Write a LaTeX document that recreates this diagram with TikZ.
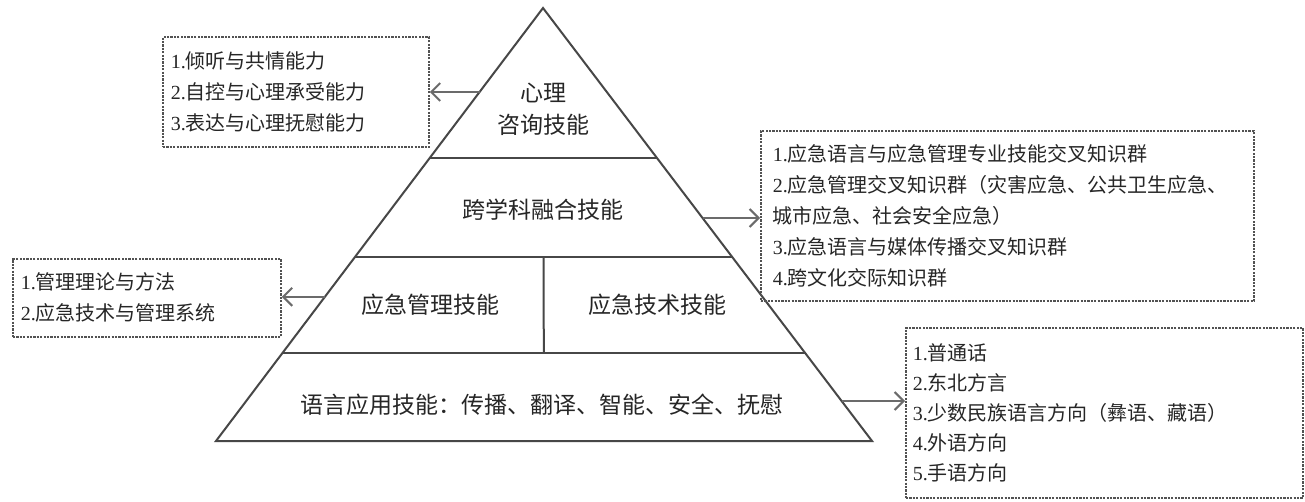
\documentclass[tikz,border=0pt]{standalone}
\usepackage{fontspec}
\setmainfont{Liberation Serif}
\newfontfamily\zh{Noto Sans CJK SC}
\usetikzlibrary{arrows.meta,calc}
\begin{document}
\begin{tikzpicture}[x=1pt,y=-1pt,
  edge/.style={draw=black!72, line width=2pt, line join=miter},
  lvl/.style={font=\zh\fontsize{23}{32}\selectfont, text=black!85, inner sep=0pt, align=center},
  listbox/.style={draw=black!68, line width=1.8pt, dash pattern=on 2.2pt off 1.2pt,
    font=\fontsize{20}{31}\selectfont, align=left, anchor=north west,
    inner xsep=8pt, inner ysep=0pt, text=black!85},
  arr/.style={draw=black!58, line width=2pt, -{Straight Barb[length=9pt,width=18pt,line width=2pt]}}
]
\fill[white] (0,0) rectangle (1305,501);
\useasboundingbox (0,0) rectangle (1305,501);

% pyramid
\coordinate (apex) at (543,8);
\coordinate (bl) at (216,441);
\coordinate (br) at (872,441);
\draw[edge] (bl) -- (apex) -- (br) -- cycle;
\coordinate (l1) at ($(apex)!0.3464!(bl)$);
\coordinate (r1) at ($(apex)!0.3464!(br)$);
\coordinate (l2) at ($(apex)!0.5751!(bl)$);
\coordinate (r2) at ($(apex)!0.5751!(br)$);
\coordinate (l3) at ($(apex)!0.7968!(bl)$);
\coordinate (r3) at ($(apex)!0.7968!(br)$);
\draw[edge] (l1) -- (r1);
\draw[edge] (l2) -- (r2);
\draw[edge] (l3) -- (r3);
\coordinate (m2) at ($(l2)!0.5!(r2)$);
\coordinate (m3) at ($(l3)!0.5!(r3)$);
\draw[edge] (m2) -- (m3);

% level labels
\node[lvl] (t1) at (543,109) {心理\\咨询技能};
\node[lvl] (t2) at (543,210) {跨学科融合技能};
\node[lvl] (t3) at (430,305) {应急管理技能};
\node[lvl] (t4) at (657,305) {应急技术技能};
\node[lvl] (t5) at (542,405) {语言应用技能：传播、翻译、智能、安全、抚慰};

% list boxes
\node[listbox, text width=250pt, minimum height=110pt] (b1) at (162,36)
  {1.{\zh 倾听与共情能力}\\2.{\zh 自控与心理承受能力}\\3.{\zh 表达与心理抚慰能力}};
\node[listbox, inner xsep=12pt, text width=469pt, minimum height=170pt] (b2) at (760,130)
  {1.{\zh 应急语言与应急管理专业技能交叉知识群}\\
   2.{\zh 应急管理交叉知识群（灾害应急、公共卫生应急、}\\
   {\zh 城市应急、社会安全应急）}\\
   3.{\zh 应急语言与媒体传播交叉知识群}\\
   4.{\zh 跨文化交际知识群}};
\node[listbox, text width=252pt, minimum height=78pt] (b3) at (12,258)
  {1.{\zh 管理理论与方法}\\2.{\zh 应急技术与管理系统}};
\node[listbox, font=\fontsize{20}{30}\selectfont, inner xsep=7pt, text width=383pt, minimum height=170pt] (b4) at (905,327)
  {1.{\zh 普通话}\\2.{\zh 东北方言}\\3.{\zh 少数民族语言方向（彝语、藏语）}\\4.{\zh 外语方向}\\5.{\zh 手语方向}};

% arrows
\coordinate (s1) at ($(apex)!0.194!(bl)$);
\coordinate (s2) at ($(apex)!0.485!(br)$);
\coordinate (s3) at ($(apex)!0.667!(bl)$);
\coordinate (s4) at ($(apex)!0.9076!(br)$);
\draw[arr] (s1) -- (s1 -| b1.east);
\draw[arr] (s2) -- (s2 -| b2.west);
\draw[arr] (s3) -- (s3 -| b3.east);
\draw[arr] (s4) -- (s4 -| b4.west);
\end{tikzpicture}
\end{document}
